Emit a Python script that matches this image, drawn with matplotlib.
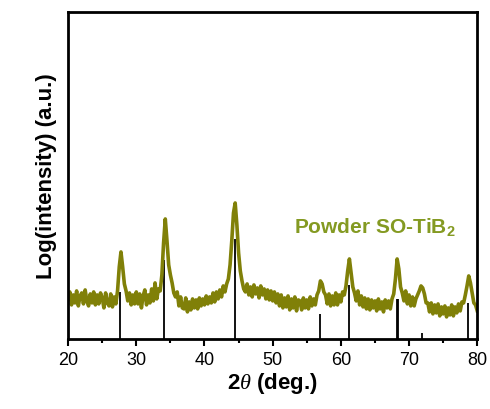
import numpy as np
import matplotlib
matplotlib.use('Agg')
import matplotlib.pyplot as plt

plt.rcParams['font.family'] = ['Liberation Sans', 'DejaVu Sans']
plt.rcParams['mathtext.fontset'] = 'custom'
plt.rcParams['mathtext.rm'] = 'Liberation Sans:bold'
plt.rcParams['mathtext.bf'] = 'Liberation Sans:bold'
plt.rcParams['mathtext.it'] = 'Liberation Serif:italic'

# measured pattern, 2theta from 20 to 80 in 0.25 deg steps (log intensity, a.u.)
two_theta = np.arange(20, 80.001, 0.25)
intensity = [
    40, 47, 34, 44,   36, 48, 33, 43,   46, 35, 49, 38,   33, 45, 36, 47,   # 20-23
    34, 44, 35, 46,   41, 31, 46, 36,   33, 45, 32, 42,   35, 48, 72, 87,   # 24-27
    72, 55, 48, 38,   46, 34, 44, 35,   47, 35, 45, 31,   43, 49, 34, 44,   # 28-31
    36, 50, 38, 56,   40, 50, 48, 64,   96, 120, 98, 74,  64, 56, 46, 42,   # 32-35
    47, 33, 42, 31,   30, 41, 27, 37,   29, 40, 31, 39,   30, 41, 33, 40,   # 36-39
    34, 43, 35, 42,   36, 46, 37, 47,   40, 49, 42, 53,   47, 55, 60, 74,   # 40-43
    98, 126, 136, 114, 86, 68, 58, 50,  47, 55, 44, 52,   42, 54, 45, 51,   # 44-47
    41, 53, 44, 50,   40, 49, 39, 48,   38, 47, 36, 45,   33, 44, 31, 41,   # 48-51
    32, 43, 29, 40,   31, 42, 28, 39,   38, 29, 41, 31,   39, 30, 42, 33,   # 52-55
    40, 34, 44, 48,   58, 55, 47, 44,   35, 45, 33, 43,   34, 46, 34, 44,   # 56-59
    37, 47, 44, 53,   68, 80, 66, 52,   46, 38, 48, 34,   43, 32, 41, 30,   # 60-63
    40, 29, 39, 31,   38, 28, 40, 30,   37, 27, 39, 31,   38, 30, 40, 45,   # 64-67
    60, 80, 70, 52,   46, 38, 48, 35,   44, 33, 42, 33,   40, 44, 48, 53,   # 68-71
    51, 45, 36, 36,   27, 36, 25, 34,   26, 35, 23, 32,   25, 33, 22, 31,   # 72-75
    24, 34, 23, 32,   26, 35, 28, 37,   36, 44, 53, 63,   56, 46, 36, 34,   # 76-79
    28,
]

# reference stick pattern (TiB2)
ref_pos = [27.62, 34.13, 44.45, 56.97, 61.14, 68.23, 68.39, 71.93, 78.66]
ref_height = [47, 79, 100, 25, 54, 40, 40, 6, 36]

fig = plt.figure(figsize=(4.9, 4.1), dpi=100)
ax = fig.add_axes([0.139, 0.171, 0.835, 0.797])

ax.vlines(ref_pos, 0, ref_height, color='black', lw=1.3)
ax.plot(two_theta, intensity, color='#808008', lw=2.6)

ax.text(0.75, 0.345, 'Powder SO-TiB$_\\mathrm{2}$', transform=ax.transAxes,
        ha='center', va='center', fontsize=15, fontweight='bold', color='#849a22')

ax.set_xlim(20, 80)
ax.set_ylim(0, 327)
ax.set_xticks(np.arange(20, 81, 10))
ax.set_xticks(np.arange(25, 80, 10), minor=True)
ax.set_yticks([])
ax.tick_params(axis='x', which='major', direction='out', length=5, width=1.5, labelsize=13)
ax.tick_params(axis='x', which='minor', direction='out', length=3, width=1.5)
for s in ax.spines.values():
    s.set_linewidth(2)

ax.set_xlabel('2$\\theta$ (deg.)', fontsize=16, fontweight='bold', labelpad=2)
ax.set_ylabel('Log(intensity) (a.u.)', fontsize=16, fontweight='bold', labelpad=8)

plt.savefig('out.png', dpi=100)
